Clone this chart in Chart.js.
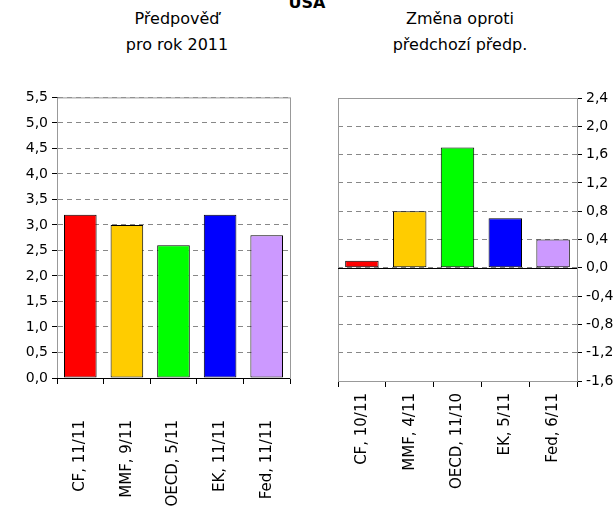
<!DOCTYPE html>
<html><head><meta charset="utf-8">
<script src="https://cdn.jsdelivr.net/npm/chart.js@4"></script>
<style>
body{margin:0;width:614px;height:519px;overflow:hidden;background:#fff;font-family:"DejaVu Sans",Verdana,sans-serif;position:relative}
.t{position:absolute;text-align:center;font-size:16px;line-height:26px;color:#000}
canvas{position:absolute}
</style></head><body>
<div class="t" style="left:0;width:614px;top:-10px;font-weight:bold">USA</div>
<div class="t" style="left:77px;width:200px;top:6px">Předpověď<br>pro rok 2011</div>
<div class="t" style="left:360px;width:200px;top:6px">Změna oproti<br>předchozí předp.</div>
<div style="position:absolute;left:0;top:85px;width:300px;height:434px"><canvas id="c1"></canvas></div>
<div style="position:absolute;left:300px;top:85px;width:314px;height:434px"><canvas id="c2"></canvas></div>
<script>
const forecastLabels = ['CF, 11/11', 'MMF, 9/11', 'OECD, 5/11', 'EK, 11/11', 'Fed, 11/11'];
const forecastValues = [3.2, 3.0, 2.6, 3.2, 2.8];
const changeLabels = ['CF, 10/11', 'MMF, 4/11', 'OECD, 11/10', 'EK, 5/11', 'Fed, 6/11'];
const changeValues = [0.1, 0.8, 1.7, 0.7, 0.4];
const barColors = ['#ff0000', '#ffcc00', '#00ff00', '#0000ff', '#cc99ff'];

const FONT = 'DejaVu Sans';
const fmt = v => v.toFixed(1).replace('.', ',');

// frame around plot area + rotated category labels drawn at the scale's tick positions
function framePlugin(labelTop) {
  return {
    id: 'frame',
    beforeDatasetsDraw(chart) {
      const a = chart.chartArea, ctx = chart.ctx;
      ctx.save();
      ctx.strokeStyle = '#999';
      ctx.lineWidth = 1;
      ctx.strokeRect(a.left + 0.5, a.top + 0.5, a.right - a.left, a.bottom - a.top);
      ctx.restore();
    },
    afterDraw(chart) {
      const ctx = chart.ctx, x = chart.scales.x, y = chart.scales.y;
      ctx.save();
      ctx.strokeStyle = '#000';
      ctx.lineWidth = 1;
      const y0 = Math.round(y.getPixelForValue(0)) + 0.5;
      ctx.beginPath();
      ctx.moveTo(chart.chartArea.left, y0);
      ctx.lineTo(chart.chartArea.right, y0);
      ctx.stroke();
      ctx.font = '15px ' + FONT;
      ctx.fillStyle = '#000';
      ctx.textBaseline = 'middle';
      ctx.textAlign = 'right';
      chart.data.labels.forEach((lab, i) => {
        ctx.save();
        ctx.translate(x.getPixelForTick(i), labelTop);
        ctx.rotate(-Math.PI / 2);
        ctx.fillText(lab, 0, 0);
        ctx.restore();
      });
      ctx.restore();
    }
  };
}

function makeChart(id, labels, values, yOpts, labelTop, pad) {
  return new Chart(document.getElementById(id), {
    type: 'bar',
    data: {
      labels: labels,
      datasets: [{
        data: values,
        backgroundColor: barColors,
        borderColor: '#000',
        borderWidth: 1,
        borderSkipped: false,
        categoryPercentage: 0.7,
        barPercentage: 1
      }]
    },
    options: {
      responsive: true,
      maintainAspectRatio: false,
      animation: false,
      layout: { padding: pad },
      plugins: { legend: { display: false }, tooltip: { enabled: false } },
      scales: {
        x: {
          ticks: { display: false },
          grid: { display: true, drawOnChartArea: false, offset: true, tickLength: 6, color: '#000' },
          border: { display: false },
          afterFit: s => { s.height = 0; }
        },
        y: Object.assign({
          ticks: { font: { family: FONT, size: 14 }, color: '#000', callback: v => fmt(v), padding: 4 },
          grid: { color: '#888', tickLength: 5, tickColor: '#000', drawTicks: true },
          border: { dash: [5, 4], color: '#000' }
        }, yOpts)
      }
    },
    plugins: [framePlugin(labelTop)]
  });
}

makeChart('c1', forecastLabels, forecastValues,
  { min: 0, max: 5.5, position: 'left', afterFit: s => { s.width = 57; },
    afterBuildTicks: s => { s.ticks = []; for (let i = 0; i <= 11; i++) s.ticks.push({ value: i * 0.5 }); } },
  335, { top: 12, bottom: 141, right: 10 });

makeChart('c2', changeLabels, changeValues,
  { min: -1.6, max: 2.4, position: 'right', afterFit: s => { s.width = 37; },
    afterBuildTicks: s => { s.ticks = []; for (let i = 0; i <= 10; i++) s.ticks.push({ value: -1.6 + i * 0.4 }); } },
  308, { top: 13, bottom: 138, left: 38 });
</script>
</body></html>
